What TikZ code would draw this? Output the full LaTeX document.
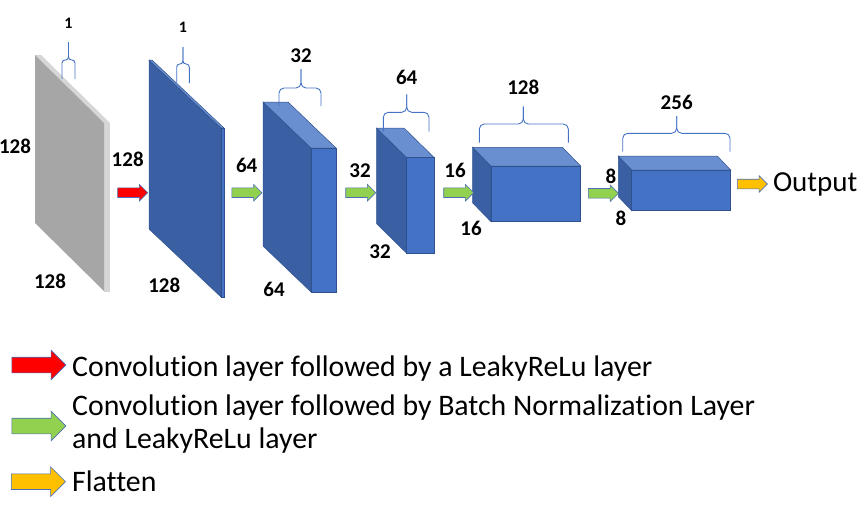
\documentclass[tikz,border=0pt]{standalone}
\usepackage{fontspec}
\setmainfont{Carlito}[Ligatures=NoCommon]
\usetikzlibrary{shapes.arrows,positioning}
\definecolor{cubefront}{HTML}{4472C4}
\definecolor{cubetop}{HTML}{6A8FD0}
\definecolor{cubeside}{HTML}{3A5FA3}
\definecolor{cubeline}{HTML}{2F528F}
\definecolor{slabgray}{HTML}{A6A6A6}
\definecolor{slablight}{HTML}{D6D6D6}
\definecolor{convred}{HTML}{FF0000}
\definecolor{bngreen}{HTML}{92D050}
\definecolor{flatyellow}{HTML}{FFC000}
\definecolor{arrowline}{HTML}{4A6FB5}

\begin{document}
\begin{tikzpicture}[x=1pt, y=-1pt,
  dimlabel/.style={font=\fontsize{21}{21}\selectfont\bfseries, inner sep=0pt},
  flowarrow/.style={single arrow, draw=arrowline, line width=0.6pt, fill=#1, inner sep=0pt,
    text height=9pt, text depth=0pt, minimum height=30pt,
    single arrow head extend=3.5pt, single arrow tip angle=90},
  keyarrow/.style={single arrow, draw=arrowline, line width=0.6pt, fill=#1, inner sep=0pt,
    text height=15pt, text depth=0pt, minimum height=54pt,
    single arrow head extend=7pt, single arrow tip angle=90},
  keytext/.style={font=\fontsize{29.8}{33}\selectfont, anchor=base west, inner sep=0pt, align=left},
  bracket/.style={draw=cubefront, line width=0.9pt}]
  \useasboundingbox (0,0) rectangle (864,517);

  % Input slab
  \fill[slablight] (104,123) -- ++(-69,-68) -- ++(6,0) -- ++(69,68) -- cycle;
  \fill[slablight] (104,123) rectangle ++(6,169);
  \fill[slabgray] (104,123) -- ++(-69,-68) -- ++(0,168) -- ++(69,68) -- cycle;

  % Feature maps
  \foreach \fx/\fy/\w/\h/\dx/\dy in {221/128/3/169/72/68, 311/148/25/144/48/46,
      406.7/157.7/27.6/95.6/30/29.5, 491/166/89.7/55.7/18.3/18.7, 631.7/170/99/40.7/13.4/14} {
    \filldraw[fill=cubeside, draw=cubeline, line width=0.5pt]
      (\fx,\fy) -- ++(-\dx,-\dy) -- ++(0,\h) -- ++(\dx,\dy) -- cycle;
    \filldraw[fill=cubetop, draw=cubeline, line width=0.5pt]
      (\fx,\fy) -- ++(-\dx,-\dy) -- ++(\w,0) -- ++(\dx,\dy) -- cycle;
    \filldraw[fill=cubefront, draw=cubeline, line width=0.5pt] (\fx,\fy) rectangle ++(\w,\h);
  }

  % Depth braces
  \foreach \i/\xa/\xb/\xm/\yb/\ym/\yt/\r/\ly/\fs/\lbl in {1/62/75/68.5/79/60/42/3/23/16/1,
      2/176.7/189.3/183/83/64/47/3/27/16/1, 3/279/321/301/106/88/69/5/56/21/32,
      4/383.3/429/406.7/131.7/112.3/94.3/5/77.3/21/64, 5/479.3/568.3/523.3/142.7/124/106.7/5/87.7/21/128,
      6/622.7/730/676.7/151.7/133.3/116/5/102.3/21/256} {
    \draw[bracket, rounded corners=\r pt] (\xa,\yb) -- (\xa,\ym) -- (\xm,\ym) -- (\xm,\yt);
    \draw[bracket, rounded corners=\r pt] (\xb,\yb) -- (\xb,\ym) -- (\xm,\ym) -- (\xm,\yt);
    \node[dimlabel, font=\fontsize{\fs}{\fs}\selectfont\bfseries] (depth\i) at (\xm,\ly) {\lbl};
  }

  % Height and width labels
  \foreach \x/\y/\lbl [count=\i] in {15/146.7/128, 50/281.7/128, 127.7/159/128, 164.3/285.7/128,
      246.7/165.7/64, 274/289/64, 360/170.7/32, 380/251.7/32, 455/170.7/16, 471/228.3/16,
      611/176.7/8, 621/218.3/8}
    \node[dimlabel] (size\i) at (\x,\y) {\lbl};

  % Layer arrows
  \node[flowarrow=convred] (conv) at (130.3,192.7) {};
  \foreach \x/\y [count=\i] in {244.5/192.7, 358.3/192.7, 456.3/192.7, 601/193.3}
    \node[flowarrow=bngreen] (bn\i) at (\x,\y) {};
  \node[flowarrow=flatyellow] (flat) at (750,184) {};
  \node[font=\fontsize{29}{29}\selectfont, inner sep=0pt, right=5pt of flat] (output) {Output};

  % Legend
  \node[keyarrow=convred] (keyconv) at (35,365) {};
  \node[keyarrow=bngreen] (keybn) at (35,426) {};
  \node[keyarrow=flatyellow] (keyflat) at (34.5,481.7) {};
  \node[keytext] (txtconv) at (72,376) {Convolution layer followed by a LeakyReLu layer};
  \node[keytext] (txtbn) at (72,448) {Convolution layer followed by Batch Normalization Layer\\and LeakyReLu layer};
  \node[keytext] (txtflat) at (72,491.7) {Flatten};
\end{tikzpicture}
\end{document}
